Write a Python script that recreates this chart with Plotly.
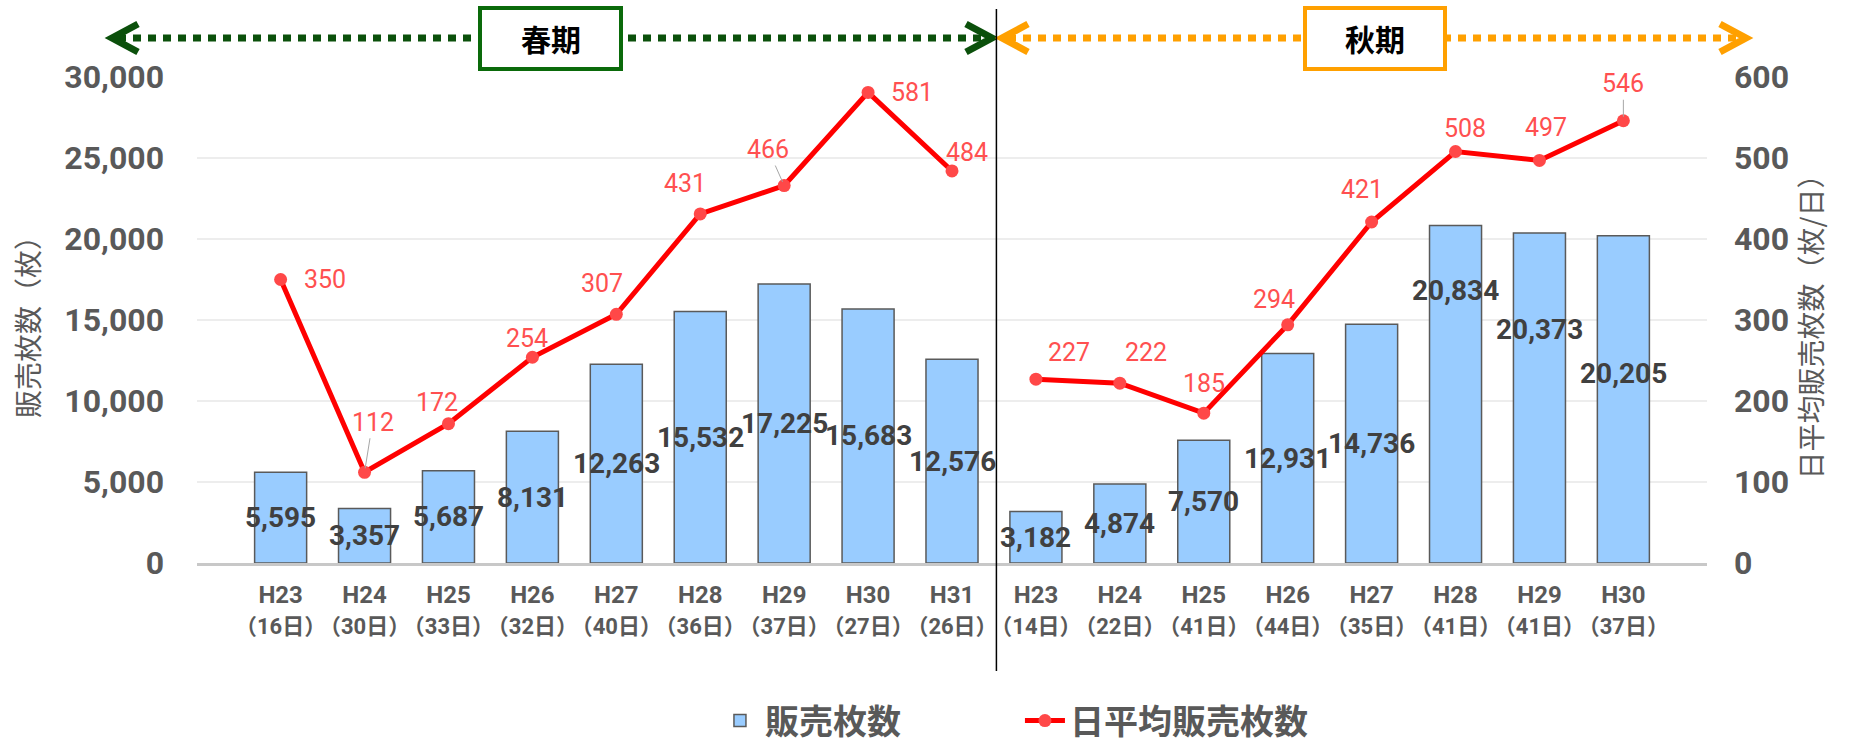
import plotly.graph_objects as go

# ---------------- data ----------------
years_spring = ["H23", "H24", "H25", "H26", "H27", "H28", "H29", "H30", "H31"]
days_spring = [16, 30, 33, 32, 40, 36, 37, 27, 26]
sales_spring = [5595, 3357, 5687, 8131, 12263, 15532, 17225, 15683, 12576]
avg_spring = [350, 112, 172, 254, 307, 431, 466, 581, 484]

years_autumn = ["H23", "H24", "H25", "H26", "H27", "H28", "H29", "H30"]
days_autumn = [14, 22, 41, 44, 35, 41, 41, 37]
sales_autumn = [3182, 4874, 7570, 12931, 14736, 20834, 20373, 20205]
avg_autumn = [227, 222, 185, 294, 421, 508, 497, 546]

season_labels = ["春期", "秋期"]
bar_name = "販売枚数"
line_name = "日平均販売枚数"
y1_title = "販売枚数（枚）"
y2_title = "日平均販売枚数（枚/日）"

# ---------------- label placement (style, px offsets) ----------------
off_spring = [(44, 0), (8, -50), (-11, -21), (-5, -19), (-14, -31), (-15, -30), (-16, -36), (44, 0), (15, -18)]
off_autumn = [(33, -27), (26, -31), (0, -30), (-14, -25), (-10, -32), (9, -23), (7, -33), (0, -37)]
leader_spring = [1, 6]
leader_autumn = [7]
# vertical shift (px, up positive) of bar value labels from the bar middle
bar_lab_shift_spring = [0, 0, 0, 0, 0, 0, 0, 0, 0]
bar_lab_shift_autumn = [0, 0, 0, 0, 0, 104, 68, 26]

cats_spring = [f"{y}<br>（{d}日）" for y, d in zip(years_spring, days_spring)]
cats_autumn = [f"{y}<br>（{d}日）" for y, d in zip(years_autumn, days_autumn)]
cats = cats_spring + cats_autumn
sales = sales_spring + sales_autumn
bar_shift = bar_lab_shift_spring + bar_lab_shift_autumn
tick_text = [c.replace("<br>", "<br><span style='font-size:22px'>") + "</span>" for c in cats]

FONT = "Roboto, 'Noto Sans CJK JP', sans-serif"
CJK = "'Noto Sans CJK JP', sans-serif"
GRAY = "#595959"

fig = go.Figure()
fig.add_trace(go.Bar(
    x=cats, y=sales, name=bar_name,
    marker=dict(color="#99CCFF", line=dict(color="#5A5A5A", width=1.5)),
    width=0.62,
    hoverinfo="skip",
))
line_style = dict(color="#FF0000", width=5)
marker_style = dict(color="#FF4848", size=13)
fig.add_trace(go.Scatter(
    x=cats_spring, y=avg_spring, name=line_name, yaxis="y2", mode="lines+markers",
    line=line_style, marker=marker_style, legendgroup="avg",
))
fig.add_trace(go.Scatter(
    x=cats_autumn, y=avg_autumn, name=line_name, yaxis="y2", mode="lines+markers",
    line=line_style, marker=marker_style, legendgroup="avg", showlegend=False,
))

annotations = []
# bar value labels (centred in bar, some lifted)
for c, v, s in zip(cats, sales, bar_shift):
    annotations.append(dict(
        x=c, y=v / 2, xref="x", yref="y", text=f"{v:,}", showarrow=False,
        xanchor="center", yanchor="middle", yshift=s,
        font=dict(family=FONT, size=28, color="#404040", weight="bold"),
    ))

def add_labels(cs, vals, offs, leaders):
    for i, (c, v, (ax, ay)) in enumerate(zip(cs, vals, offs)):
        annotations.append(dict(
            x=c, y=v, xref="x", yref="y2", text=str(v), showarrow=True,
            arrowhead=0, arrowwidth=1,
            arrowcolor="#A6A6A6" if i in leaders else "rgba(0,0,0,0)",
            ax=ax, ay=ay, standoff=4,
            font=dict(family=FONT, size=25, color="#FF5050"),
        ))
add_labels(cats_spring, avg_spring, off_spring, leader_spring)
add_labels(cats_autumn, avg_autumn, off_autumn, leader_autumn)

# ---------------- top season banners ----------------
L, R, T, B = 197, 147, 77, 180
W, H = 1854, 743
PW, PH = W - L - R, H - T - B
def px(v):
    return (v - L) / PW
def py(v):
    return (H - B - v) / PH

shapes = []
def banner(x_left, x_right, box_l, box_r, color, box_color, label):
    yc = 38
    shapes.append(dict(type="line", xref="paper", yref="paper",
                       x0=px(x_left + 6), x1=px(x_right - 6), y0=py(yc), y1=py(yc),
                       line=dict(color=color, width=7, dash="8px,7px")))
    shapes.append(dict(type="path", xref="paper", yref="paper",
                       path=f"M {px(x_left + 26)} {py(yc - 14)} L {px(x_left)} {py(yc)} L {px(x_left + 26)} {py(yc + 14)}",
                       line=dict(color=color, width=7)))
    shapes.append(dict(type="path", xref="paper", yref="paper",
                       path=f"M {px(x_right - 26)} {py(yc - 14)} L {px(x_right)} {py(yc)} L {px(x_right - 26)} {py(yc + 14)}",
                       line=dict(color=color, width=7)))
    shapes.append(dict(type="rect", xref="paper", yref="paper",
                       x0=px(box_l), x1=px(box_r), y0=py(69), y1=py(8),
                       line=dict(color=box_color, width=4), fillcolor="white", layer="above"))
    annotations.append(dict(x=px((box_l + box_r) / 2), y=py(yc), xref="paper", yref="paper",
                            xanchor="center", yanchor="middle",
                            text=label, showarrow=False,
                            font=dict(family=CJK, size=30, color="#000000", weight="bold")))

banner(112, 992, 480, 621, "#0B500B", "#0A6A0A", season_labels[0])
banner(1002, 1746, 1305, 1445, "#FFA000", "#FFA000", season_labels[1])

# separator between seasons
sep = len(cats_spring) / len(cats)
shapes.append(dict(type="line", xref="paper", yref="paper", x0=sep, x1=sep,
                   y0=py(671), y1=py(9), line=dict(color="#000000", width=1.5)))

fig.update_layout(
    width=W, height=H,
    margin=dict(l=L, r=R, t=T, b=B, autoexpand=False),
    paper_bgcolor="white", plot_bgcolor="white",
    font=dict(family=FONT, color=GRAY),
    showlegend=True,
    legend=dict(orientation="h", x=0.545, xanchor="center", y=-0.325, yanchor="middle",
                font=dict(family=CJK, size=34, color=GRAY, weight="bold"),
                entrywidth=250, itemwidth=40),
    xaxis=dict(type="category", showline=True, linecolor="#C8C8C8", linewidth=3,
               automargin=False,
               tickmode="array", tickvals=cats, ticktext=tick_text,
               ticks="", showgrid=False, ticklabelstandoff=8, tickangle=0,
               tickfont=dict(family=FONT, size=24, color=GRAY, weight="bold")),
    yaxis=dict(range=[0, 30000], dtick=5000, tickformat=",", showgrid=True,
               automargin=False,
               gridcolor="#EDEDED", gridwidth=1.5, zeroline=False, ticks="",
               ticklabelstandoff=32,
               tickfont=dict(family=FONT, size=32, color=GRAY, weight="bold"),
               title=dict(text=y1_title, standoff=16,
                          font=dict(family=CJK, size=28, color=GRAY))),
    yaxis2=dict(range=[0, 600], dtick=100, overlaying="y", side="right",
                automargin=False,
                showgrid=False, zeroline=False, ticks="", ticklabelstandoff=26,
                tickfont=dict(family=FONT, size=32, color=GRAY, weight="bold"),
                title=dict(text=y2_title, standoff=14,
                           font=dict(family=CJK, size=28, color=GRAY))),
    bargap=0.38,
    shapes=shapes,
    annotations=annotations,
)

fig.write_html("out.html", config={"displayModeBar": False},
               post_script="document.body.style.margin='0';")
